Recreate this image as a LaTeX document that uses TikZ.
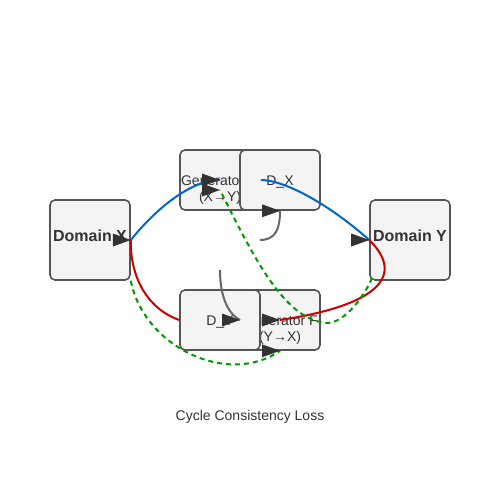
\documentclass[tikz,border=0pt]{standalone}
\usepackage{fontspec}
\setmainfont{Liberation Sans}
\definecolor{boxfill}{HTML}{F4F4F4}
\definecolor{boxline}{HTML}{555555}
\definecolor{txt}{HTML}{333333}
\definecolor{bl}{HTML}{0066CC}
\definecolor{rd}{HTML}{CC0000}
\definecolor{gr}{HTML}{009900}
\definecolor{gy}{HTML}{666666}
\begin{document}
\begin{tikzpicture}[x=1pt,y=-1pt,
  box/.style={draw=boxline, fill=boxfill, line width=1.6pt, rounded corners=5pt, inner sep=0pt},
  bigbox/.style={box, minimum width=80pt, minimum height=80pt},
  smallbox/.style={box, minimum width=80pt, minimum height=60pt},
  lbl/.style={text=txt, font=\fontsize{14}{16}\selectfont, anchor=base, inner sep=0pt},
  blbl/.style={text=txt, font=\fontsize{16}{19}\selectfont\bfseries, anchor=base, inner sep=0pt},
  conn/.style={line width=2pt},
  bluec/.style={conn, draw=bl},
  redc/.style={conn, draw=rd},
  grayc/.style={conn, draw=gy},
  greenc/.style={conn, draw=gr, dash pattern=on 5pt off 4pt},
  arrhead/.pic={\fill[txt] (0,0) -- (-18,-6.5) -- (-18,6.5) -- cycle;}
]
\fill[white] (0,0) rectangle (500,500);
\useasboundingbox (0,0) rectangle (500,500);

% boxes and labels
\node[bigbox] (domx) at (90,240) {};
\node[blbl] (domxl) at (90,241) {Domain X};
\node[bigbox] (domy) at (410,240) {};
\node[blbl] (domyl) at (410,241) {Domain Y};

\node[smallbox] (genG) at (220,180) {};
\node[lbl] (genGa) at (220,185) {Generator G};
\node[lbl] (genGb) at (220,201) {(X→Y)};
\node[smallbox] (dx) at (280,180) {};
\node[lbl] (dxl) at (280,185) {D\_X};

\node[smallbox] (genF) at (280,320) {};
\node[lbl] (genFa) at (280,325) {Generator F};
\node[lbl] (genFb) at (280,341) {(Y→X)};
\node[smallbox] (dy) at (220,320) {};
\node[lbl] (dyl) at (220,325) {D\_Y};

\node[lbl] (loss) at (250,420) {Cycle Consistency Loss};

% free ends
\coordinate (g1s) at (260,240);
\coordinate (g2s) at (220,270);
\coordinate (g2e) at (240,320);
\coordinate (c1s) at (372,278);
\coordinate (c1m) at (327,323);
\coordinate (c1e) at (220,190);

% connectors
\draw[bluec] (domx.east) .. controls (155,210) and (190,180) .. (genG.center);
\draw[bluec] (genG.east) .. controls (285,180) and (330,205) .. (domy.west);
\draw[redc] (dy.west) .. controls (150,310) and (130,280) .. (domx.east);
\draw[redc] (domy.west) .. controls (405,275) and (380,305) .. (genF.center);
\draw[grayc] (g1s) .. controls (275,240) and (280,230) .. (dx.south);
\draw[grayc] (g2s) .. controls (220,300) and (230,315) .. (g2e);
\draw[greenc] (c1s) .. controls (365,295) and (345,323) .. (c1m)
   .. controls (285,320) and (255,260) .. (c1e);
\draw[greenc] (domx.south east) .. controls (144,347) and (228,387) .. (genF.south);

% arrowheads
\pic at (domx.east) {arrhead};
\pic at (genG.center) {arrhead};
\pic at (c1e) {arrhead};
\pic at (dx.south) {arrhead};
\pic at (g2e) {arrhead};
\pic at (genF.center) {arrhead};
\pic at (genF.south) {arrhead};
\pic at (domy.west) {arrhead};
\end{tikzpicture}
\end{document}
